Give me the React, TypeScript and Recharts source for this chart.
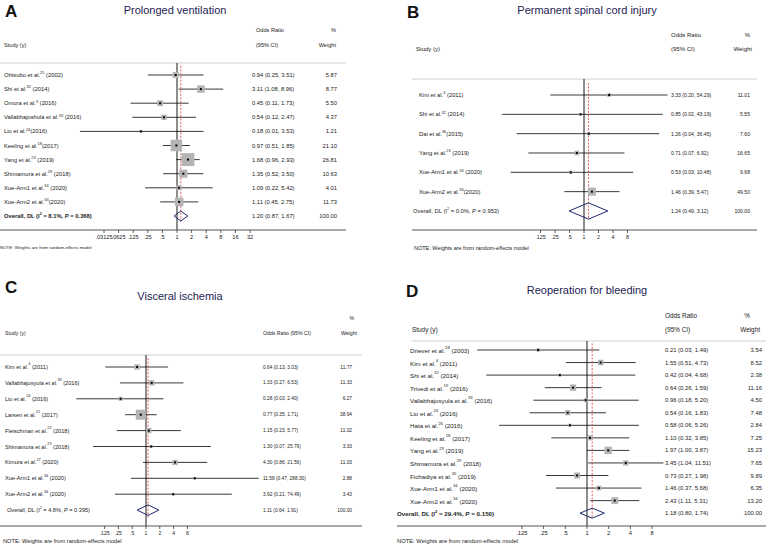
import { ScatterChart, Scatter, XAxis, YAxis, ErrorBar, ReferenceLine } from "recharts";

const FONT = '"Liberation Sans", Arial, Helvetica, sans-serif';
const NAVY = "#1f2a6b";
const RED = "#d43a3a";
const BOX = "#b4b4b4";
const TXT = "#222";
const AXIS_H = 14;

const lg = (v: number) => Math.log2(v);

// ---- A: Prolonged ventilation
const studiesA = ["Ohtsubo et al.", "Shi et al.", "Omura et al.", "Vallabhajoshula et al.", "Lio et al.", "Keeling et al.", "Yang et al.", "Shimamura et al.", "Xue-Arm1 et al.", "Xue-Arm2 et al."];
const refsA = ["25", "32", "9", "33", "24", "18", "23", "29", "34", "34"];
const yearsA = [" (2002)", " (2014)", " (2016)", " (2016)", "(2016)", "(2017)", " (2019)", " (2018)", " (2020)", "(2020)"];
const orA = [0.94, 3.11, 0.45, 0.54, 0.18, 0.97, 1.68, 1.35, 1.09, 1.11];
const loA = [0.25, 1.08, 0.11, 0.12, 0.01, 0.51, 0.96, 0.52, 0.22, 0.45];
const hiA = [3.51, 8.96, 1.73, 2.47, 3.53, 1.85, 2.93, 3.5, 5.42, 2.75];
const weightA = [5.87, 8.77, 5.5, 4.37, 1.21, 21.1, 26.81, 10.63, 4.01, 11.73];
const overallA = [1.2, 0.87, 1.67];
const hetA = ["8.1%", "0.368"];

// ---- B: Permanent spinal cord injury
const studiesB = ["Kim et al.", "Shi et al.", "Dai et al.", "Yang et al.", "Xue-Arm1 et al.", "Xue-Arm2 et al."];
const refsB = ["4", "32", "36", "23", "34", "34"];
const yearsB = [" (2011)", " (2014)", "(2015)", " (2019)", " (2020)", "(2020)"];
const orB = [3.33, 0.85, 1.26, 0.71, 0.53, 1.46];
const loB = [0.2, 0.02, 0.04, 0.07, 0.03, 0.39];
const hiB = [54.29, 43.19, 36.45, 6.92, 10.48, 5.47];
const weightB = [11.01, 5.55, 7.6, 16.65, 9.68, 49.5];
const overallB = [1.24, 0.49, 3.12];
const hetB = ["0.0%", "0.953"];

// ---- C: Visceral ischemia
const studiesC = ["Kim et al.", "Vallabhajosyula et al.", "Lio et al.", "Larsen et al.", "Fleischman  et al.", "Shimamura et al.", "Kimura et al.", "Xue-Arm1 et al.", "Xue-Arm2 et al."];
const refsC = ["4", "33", "24", "21", "22", "29", "27", "34", "34"];
const yearsC = [" (2011)", " (2016)", " (2016)", " (2017)", " (2018)", " (2018)", " (2020)", " (2020)", " (2020)"];
const orC = [0.64, 1.33, 0.28, 0.77, 1.15, 1.3, 4.3, 11.58, 3.92];
const loC = [0.13, 0.27, 0.03, 0.35, 0.23, 0.07, 0.86, 0.47, 0.21];
const hiC = [3.03, 6.53, 2.4, 1.71, 5.77, 25.79, 21.56, 288.3, 74.49];
const weightC = [11.77, 11.33, 6.27, 38.94, 11.02, 3.33, 11.03, 2.88, 3.43];
const overallC = [1.11, 0.64, 1.91];
const hetC = ["4.8%", "0.395"];

// ---- D: Reoperation for bleeding
const studiesD = ["Driever et al.", "Kim et al.", "Shi et al.", "Trivedi et al.", "Vallabhajosyula et al.", "Lio et al.", "Hata et al.", "Keeling et al.", "Yang et al.", "Shimamura et al.", "Fichadiya et al.", "Xue-Arm1 et al.", "Xue-Arm2 et al."];
const refsD = ["28", "4", "32", "19", "33", "24", "26", "18", "23", "29", "35", "34", "34"];
const yearsD = [" (2003)", " (2011)", " (2014)", " (2016)", " (2016)", " (2016)", " (2016)", " (2017)", " (2019)", " (2018)", " (2019)", " (2020)", " (2020)"];
const orD = [0.21, 1.55, 0.42, 0.64, 0.96, 0.54, 0.58, 1.1, 1.97, 3.45, 0.73, 1.46, 2.43];
const loD = [0.03, 0.51, 0.04, 0.26, 0.18, 0.16, 0.06, 0.32, 1.0, 1.04, 0.27, 0.37, 1.11];
const hiD = [1.49, 4.73, 4.68, 1.59, 5.2, 1.83, 5.26, 3.85, 3.87, 11.51, 1.98, 5.68, 5.31];
const weightD = [3.54, 8.52, 2.38, 11.16, 4.5, 7.48, 2.84, 7.25, 15.23, 7.65, 9.89, 6.35, 13.2];
const overallD = [1.18, 0.8, 1.74];
const hetD = ["29.4%", "0.150"];

const ticksWide = [".03125", ".0625", ".125", ".25", ".5", "1", "2", "4", "8", "16", "32"];
const ticksNarrow = [".125", ".25", ".5", "1", "2", "4", "8"];

const letters = ["A", "B", "C", "D"];
const titles = ["Prolonged ventilation", "Permanent spinal cord injury", "Visceral ischemia", "Reoperation for bleeding"];
const NOTE = "NOTE: Weights are from random-effects model";

type Layout = {
  ox: number; oy: number; w: number; h: number;
  left: number; right: number; top: number; bottom: number;
  one: number; k: number; row0: number; step: number;
  labelX: number; overallX: number; ciX: number; wX: number; lineX0: number;
  boxK: number; dh: number; labelFs: number; ciFs: number; tickFs: number; bold: boolean;
  letter: [number, number]; title: [number, number];
  hdrFs: number; oddsX: number; oddsY: number; hdr2Y: number; pctR: number; wtR: number; studyX: number;
  combined: boolean; note: [number, number, number];
};

const layA: Layout = {
  ox: 0, oy: 0, w: 383, h: 274, left: 0, right: 346, top: 63, bottom: 230,
  one: 177, k: 14.6, row0: 75, step: 14.1,
  labelX: 4, overallX: 4, ciX: 252, wX: 337, lineX0: 0,
  boxK: 2.5, dh: 0.35, labelFs: 5.8, ciFs: 5.8, tickFs: 5.6, bold: true,
  letter: [5, 17], title: [175, 14],
  hdrFs: 5.6, oddsX: 256, oddsY: 32, hdr2Y: 47, pctR: 336, wtR: 336, studyX: 4,
  combined: false, note: [0, 249, 4.4],
};
const layB: Layout = {
  ox: 384, oy: 0, w: 383, h: 274, left: 412, right: 757, top: 79, bottom: 230,
  one: 584, k: 14.5, row0: 95, step: 19.33,
  labelX: 419, overallX: 413, ciX: 671, wX: 750, lineX0: 412,
  boxK: 1.14, dh: 0.42, labelFs: 5.8, ciFs: 5.1, tickFs: 5.3, bold: false,
  letter: [407, 18], title: [587, 14],
  hdrFs: 6.0, oddsX: 671, oddsY: 37, hdr2Y: 51, pctR: 750, wtR: 752, studyX: 416,
  combined: false, note: [414, 250, 5.5],
};
const layC: Layout = {
  ox: 0, oy: 275, w: 383, h: 274, left: 0, right: 362, top: 355, bottom: 526,
  one: 146, k: 13.8, row0: 367, step: 15.9,
  labelX: 5, overallX: 7, ciX: 263, wX: 352, lineX0: 0,
  boxK: 1.6, dh: 0.33, labelFs: 5.6, ciFs: 4.8, tickFs: 5.0, bold: false,
  letter: [5, 293], title: [180, 300],
  hdrFs: 5.2, oddsX: 263, oddsY: 320, hdr2Y: 335, pctR: 354, wtR: 357, studyX: 5,
  combined: true, note: [3, 543, 5.7],
};
const layD: Layout = {
  ox: 384, oy: 275, w: 383, h: 274, left: 397, right: 766, top: 341, bottom: 526,
  one: 587, k: 21.7, row0: 350, step: 12.55,
  labelX: 410, overallX: 397, ciX: 665, wX: 762, lineX0: 412,
  boxK: 1.9, dh: 0.4, labelFs: 6.2, ciFs: 5.9, tickFs: 5.8, bold: true,
  letter: [406, 297], title: [587, 294],
  hdrFs: 6.4, oddsX: 665, oddsY: 318, hdr2Y: 332, pctR: 750, wtR: 760, studyX: 412,
  combined: false, note: [397, 543, 5.8],
};

type Row = { x: number; y: number; err: number[]; w: number; name: string; sup: string; tail: string; ci: string; wt: string };

function buildRows(studies: string[], refs: string[], years: string[], or: number[], lo: number[], hi: number[], w: number[]): Row[] {
  return studies.map((s, i) => ({
    x: lg(or[i]),
    y: i,
    err: [lg(or[i]) - lg(lo[i]), lg(hi[i]) - lg(or[i])],
    w: w[i],
    name: s,
    sup: refs[i],
    tail: years[i],
    ci: `${or[i].toFixed(2)} (${lo[i].toFixed(2)}, ${hi[i].toFixed(2)})`,
    wt: w[i].toFixed(2),
  }));
}

function Forest({ L, rows, overall, het, ticks }: { L: Layout; rows: Row[]; overall: number[]; het: string[]; ticks: string[] }) {
  const n = rows.length;
  const xd = [(L.left - L.one) / L.k, (L.right - L.one) / L.k];
  const yd = [(L.top - L.row0) / L.step, (L.bottom - L.row0) / L.step];
  const est = lg(overall[0]);
  const diamond = [
    { x: lg(overall[1]), y: n },
    { x: est, y: n - L.dh },
    { x: lg(overall[2]), y: n },
    { x: est, y: n + L.dh },
    { x: lg(overall[1]), y: n },
  ];
  const overallRow = [{ x: est, y: n }];
  const tickVals = ticks.map((t) => lg(parseFloat(t)));
  const fmtTick = (v: number) => ticks[tickVals.findIndex((t) => Math.abs(t - v) < 1e-6)] ?? "";
  const lx = (g: number) => g - L.ox;
  const fs = L.labelFs;

  // text columns: study label, OR (95% CI), weight — placed on each row's y via the y scale
  const rowText = (p: any) => {
    const r: Row = p.payload;
    const yy = p.cy;
    return (
      <g fill={TXT} fontFamily={FONT}>
        <text x={lx(L.labelX)} y={yy} fontSize={fs} dominantBaseline="central">
          <tspan>{r.name}</tspan>
          <tspan fontSize={fs * 0.68} dy={-fs * 0.45}>{r.sup}</tspan>
          <tspan dy={fs * 0.45}>{r.tail}</tspan>
        </text>
        <text x={lx(L.ciX)} y={yy} fontSize={L.ciFs} dominantBaseline="central">{r.ci}</text>
        <text x={lx(L.wX)} y={yy} fontSize={L.ciFs} dominantBaseline="central" textAnchor="end">{r.wt}</text>
      </g>
    );
  };
  const overallText = (p: any) => {
    const yy = p.cy;
    return (
      <g fill={TXT} fontFamily={FONT}>
        <text x={lx(L.overallX)} y={yy} fontSize={fs} dominantBaseline="central" fontWeight={L.bold ? 700 : 400}>
          <tspan>Overall, DL (I</tspan>
          <tspan fontSize={fs * 0.65} dy={-fs * 0.4}>2</tspan>
          <tspan dy={fs * 0.4}>{` = ${het[0]}, `}</tspan>
          <tspan fontStyle="italic">P</tspan>
          <tspan>{` = ${het[1]})`}</tspan>
        </text>
        <text x={lx(L.ciX)} y={yy} fontSize={L.ciFs} dominantBaseline="central">
          {`${overall[0].toFixed(2)} (${overall[1].toFixed(2)}, ${overall[2].toFixed(2)})`}
        </text>
        <text x={lx(L.wX)} y={yy} fontSize={L.ciFs} dominantBaseline="central" textAnchor="end">100.00</text>
      </g>
    );
  };

  const boxShape = (p: any) => {
    const s = L.boxK * Math.sqrt(p.payload.w);
    return <rect x={p.cx - s / 2} y={p.cy - s / 2} width={s} height={s} fill={BOX} />;
  };
  const dotShape = (p: any) => <rect x={p.cx - 1} y={p.cy - 1} width={2} height={2} fill="#000" />;
  const noShape = () => <g />;

  return (
    <div style={{ position: "absolute", left: L.ox, top: L.oy }}>
      <ScatterChart
        width={L.w}
        height={L.h}
        margin={{ top: L.top - L.oy, bottom: L.oy + L.h - L.bottom - AXIS_H, left: L.left - L.ox, right: L.ox + L.w - L.right }}
      >
        <XAxis
          type="number"
          dataKey="x"
          domain={xd}
          allowDataOverflow
          ticks={tickVals}
          interval={0}
          tickFormatter={fmtTick}
          height={AXIS_H}
          tickSize={3}
          tickMargin={2}
          axisLine={{ stroke: "#555", strokeWidth: 1 }}
          tickLine={{ stroke: "#333", strokeWidth: 0.8 }}
          tick={{ fontSize: L.tickFs, fill: TXT, fontFamily: FONT }}
        />
        <YAxis type="number" dataKey="y" domain={yd} allowDataOverflow reversed hide />
        <Scatter data={rows} shape={rowText} isAnimationActive={false} />
        <Scatter data={overallRow} shape={overallText} isAnimationActive={false} />
        <Scatter data={rows} shape={boxShape} isAnimationActive={false} />
        <Scatter data={rows} shape={dotShape} isAnimationActive={false}>
          <ErrorBar dataKey="err" direction="x" width={0} stroke="#222" strokeWidth={0.9} />
        </Scatter>
        <Scatter data={diamond} shape={noShape} line={{ stroke: NAVY, strokeWidth: 1 }} isAnimationActive={false} />
        <ReferenceLine
          segment={[{ x: (L.lineX0 - L.one) / L.k, y: yd[0] }, { x: xd[1], y: yd[0] }]}
          stroke="#cfcfcf"
          strokeWidth={1}
          ifOverflow="visible"
        />
        <ReferenceLine x={0} stroke="#000" strokeWidth={0.9} ifOverflow="visible" />
        <ReferenceLine
          segment={[{ x: est, y: yd[0] + 0.2 }, { x: est, y: n + 0.45 }]}
          stroke={RED}
          strokeWidth={0.8}
          strokeDasharray="2 1.5"
          ifOverflow="visible"
        />
      </ScatterChart>
    </div>
  );
}

function Headers({ L, i }: { L: Layout; i: number }) {
  const f = L.hdrFs;
  return (
    <g fill={TXT} fontFamily={FONT}>
      <text x={L.letter[0]} y={L.letter[1]} fontSize={17} fontWeight={700} fill="#111">{letters[i]}</text>
      <text x={L.title[0]} y={L.title[1]} fontSize={11} textAnchor="middle" fill="#1c2452">{titles[i]}</text>
      {L.combined ? (
        <>
          <text x={L.pctR} y={L.oddsY} fontSize={f} textAnchor="end">%</text>
          <text x={L.oddsX} y={L.hdr2Y} fontSize={f}>Odds Ratio (95% CI)</text>
        </>
      ) : (
        <>
          <text x={L.oddsX} y={L.oddsY} fontSize={f}>Odds Ratio</text>
          <text x={L.oddsX} y={L.hdr2Y} fontSize={f}>(95% CI)</text>
          <text x={L.pctR} y={L.oddsY} fontSize={f} textAnchor="end">%</text>
        </>
      )}
      <text x={L.wtR} y={L.hdr2Y} fontSize={f} textAnchor="end">Weight</text>
      <text x={L.studyX} y={L.hdr2Y} fontSize={f}>Study (y)</text>
      <text x={L.note[0]} y={L.note[1]} fontSize={L.note[2]}>{NOTE}</text>
    </g>
  );
}

export default function App() {
  const rowsA = buildRows(studiesA, refsA, yearsA, orA, loA, hiA, weightA);
  const rowsB = buildRows(studiesB, refsB, yearsB, orB, loB, hiB, weightB);
  const rowsC = buildRows(studiesC, refsC, yearsC, orC, loC, hiC, weightC);
  const rowsD = buildRows(studiesD, refsD, yearsD, orD, loD, hiD, weightD);
  const lays = [layA, layB, layC, layD];
  return (
    <div style={{ position: "absolute", left: 0, top: 0, width: 767, height: 549, background: "#fff", fontFamily: FONT }}>
      <Forest L={layA} rows={rowsA} overall={overallA} het={hetA} ticks={ticksWide} />
      <Forest L={layB} rows={rowsB} overall={overallB} het={hetB} ticks={ticksNarrow} />
      <Forest L={layC} rows={rowsC} overall={overallC} het={hetC} ticks={ticksNarrow} />
      <Forest L={layD} rows={rowsD} overall={overallD} het={hetD} ticks={ticksNarrow} />
      <svg width={767} height={549} style={{ position: "absolute", left: 0, top: 0, pointerEvents: "none" }}>
        {lays.map((L, i) => (
          <Headers key={i} L={L} i={i} />
        ))}
      </svg>
    </div>
  );
}
